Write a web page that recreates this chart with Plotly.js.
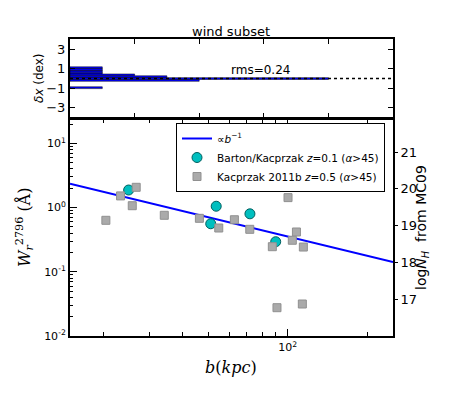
<!DOCTYPE html>
<html>
<head>
<meta charset="utf-8">
<script src="https://cdn.plot.ly/plotly-3.0.1.min.js"></script>
<style>
  body { margin: 0; padding: 0; background: white; }
  #chart { width: 463px; height: 396px; }
</style>
</head>
<body>
<div id="chart"></div>
<script>
// Barton/Kacprzak z=0.1 (cyan circles)
var bartonB = [25.0, 53.6, 71.9, 51.1, 90.0]
var bartonW = [1.88, 1.05, 0.80, 0.56, 0.294]

// Kacprzak 2011b z=0.5 (grey squares)
var kacprzakB = [20.5, 23.3, 26.7, 25.8, 34.1, 46.3, 54.8, 62.8, 71.8, 100.2, 107.8, 104.0, 87.4, 114.5, 91.0, 113.5]
var kacprzakW = [0.634, 1.52, 2.07, 1.07, 0.759, 0.681, 0.481, 0.647, 0.459, 1.43, 0.417, 0.310, 0.246, 0.243, 0.0276, 0.0315]

// b^-1 line, end points
var lineB = [15, 250]
var lineW = [2.35, 0.142]

// residual histogram (top panel), bin centres in dex and counts
var binCenters = [1.115, 0.925, 0.74, 0.56, 0.375, 0.185, -0.005, -0.195, -0.955]
var binCounts = [1, 1, 1, 1, 2, 3, 8, 4, 1]
var binWidth = 0.19

// right axis ticks
var nhTicks = [17, 18, 19, 20, 21]

var W = 463, H = 396
function px(x) { return x / W }
function py(y) { return (H - y) / H }

var serif = "DejaVu Serif"
var sans = "DejaVu Sans"

var traces = [
    {
        x: lineB, y: lineW, type: "scatter", mode: "lines",
        line: {color: "#0000ff", width: 2},
        name: "∝<i>b</i><sup>−1</sup>",
        xaxis: "x", yaxis: "y"
    },
    {
        x: bartonB, y: bartonW, type: "scatter", mode: "markers",
        marker: {symbol: "circle", size: 10, color: "#00bfbf", line: {color: "#005f5f", width: 1}},
        name: "Barton/Kacprzak <i>z</i>=0.1 (<i>α</i>&gt;45)",
        xaxis: "x", yaxis: "y"
    },
    {
        x: kacprzakB, y: kacprzakW, type: "scatter", mode: "markers",
        marker: {symbol: "square", size: 8, color: "#aaaaaa", line: {color: "#909090", width: 1}},
        name: "Kacprzak 2011b <i>z</i>=0.5 (<i>α</i>&gt;45)",
        xaxis: "x", yaxis: "y"
    },
    {
        x: binCounts, y: binCenters, type: "bar", orientation: "h",
        width: binWidth, base: 0,
        marker: {color: "#0000ff", line: {color: "black", width: 0.5}},
        showlegend: false, hoverinfo: "skip",
        xaxis: "x2", yaxis: "y3"
    },
    {
        x: [0, 10], y: [0, 0], type: "scatter", mode: "lines",
        line: {color: "black", width: 1.5, dash: "dot"},
        showlegend: false, hoverinfo: "skip",
        xaxis: "x2", yaxis: "y3"
    },
    {
        // invisible trace so the right axis is drawn
        x: [20], y: [17], type: "scatter", mode: "markers",
        marker: {opacity: 0}, showlegend: false, hoverinfo: "skip",
        xaxis: "x", yaxis: "y2"
    }
]

var xDom = [px(70), px(393)]

function note(text, x, y, extra) {
    var a = {text: text, x: px(x), y: py(y), xref: "paper", yref: "paper",
             xanchor: "center", yanchor: "middle", showarrow: false}
    return Object.assign(a, extra)
}

var layout = {
    width: W, height: H,
    margin: {l: 0, r: 0, t: 0, b: 0},
    paper_bgcolor: "white",
    plot_bgcolor: "rgba(0,0,0,0)",
    font: {family: sans, color: "black", size: 12},
    showlegend: true,
    bargap: 0,
    legend: {
        x: px(176), y: py(123), xanchor: "left", yanchor: "top",
        bordercolor: "black", borderwidth: 1, bgcolor: "white",
        font: {family: sans, size: 10.5},
        tracegroupgap: 0, itemwidth: 30
    },
    xaxis: {
        type: "log", domain: xDom, anchor: "y",
        range: [Math.log10(15), Math.log10(250)],
        tickvals: [100], ticktext: ["10<sup>2</sup>"],
        ticks: "inside", ticklen: 7, tickwidth: 1, tickcolor: "black",
        minor: {tickmode: "array", tickvals: [20, 30, 40, 50, 60, 70, 80, 90, 200], ticks: "inside", ticklen: 4, tickcolor: "black"},
        showline: true, linecolor: "black", linewidth: 2, mirror: "ticks",
        showgrid: false, zeroline: false,
        tickfont: {size: 11}
    },
    yaxis: {
        type: "log", domain: [py(336), py(119)], anchor: "x",
        range: [-2, 1.38],
        tickvals: [0.01, 0.1, 1, 10],
        ticktext: ["10<sup>-2</sup>", "10<sup>-1</sup>", "10<sup>0</sup>", "10<sup>1</sup>"],
        ticks: "inside", ticklen: 7, tickcolor: "black",
        minor: {tickmode: "array",
            tickvals: [0.02, 0.03, 0.04, 0.05, 0.06, 0.07, 0.08, 0.09, 0.2, 0.3, 0.4, 0.5, 0.6, 0.7, 0.8, 0.9, 2, 3, 4, 5, 6, 7, 8, 9, 20],
            ticks: "inside", ticklen: 3, tickcolor: "black"},
        showline: true, linecolor: "black", linewidth: 2, mirror: true,
        showgrid: false, zeroline: false,
        tickfont: {size: 11}
    },
    yaxis2: {
        overlaying: "y", side: "right", anchor: "x",
        range: [16.0, 21.9],
        tickvals: nhTicks,
        ticks: "outside", ticklen: 4, tickcolor: "black",
        showline: false, showgrid: false, zeroline: false,
        tickfont: {size: 13}
    },
    xaxis2: {
        domain: xDom, anchor: "y3",
        range: [0, 10], tickvals: [0, 2, 4, 6, 8, 10],
        showticklabels: false,
        ticks: "inside", ticklen: 5, tickcolor: "black",
        showline: true, linecolor: "black", linewidth: 2, mirror: "ticks",
        showgrid: false, zeroline: false
    },
    yaxis3: {
        domain: [py(118), py(39)], anchor: "x2",
        range: [-4.1, 4.1],
        tickvals: [-3, -1, 1, 3], ticktext: ["−3", "−1", "1", "3"],
        ticks: "inside", ticklen: 5, tickcolor: "black",
        showline: true, linecolor: "black", linewidth: 2, mirror: "ticks",
        showgrid: false, zeroline: false,
        tickfont: {size: 13}
    },
    annotations: [
        note("wind subset", 231, 31, {font: {size: 13}}),
        {text: "rms=0.24", x: 5.9, y: 0.9, xref: "x2", yref: "y3",
         xanchor: "center", yanchor: "middle", showarrow: false, font: {size: 12}},
        note("<i>δx</i> (dex)", 39, 78, {textangle: -90, font: {size: 12}}),
        note("<i>W</i><sub><i>r</i></sub><sup>2796</sup> (Å)", 25, 228, {textangle: -90, font: {family: serif, size: 16}}),
        note("<i>b</i>(<i>kpc</i>)", 231, 367, {font: {family: serif, size: 16}}),
        note("log<i>N</i><sub><i>H</i></sub>  from MC09", 422, 228, {textangle: -90, font: {size: 14}})
    ]
}

Plotly.newPlot("chart", traces, layout, {staticPlot: true})
</script>
</body>
</html>
